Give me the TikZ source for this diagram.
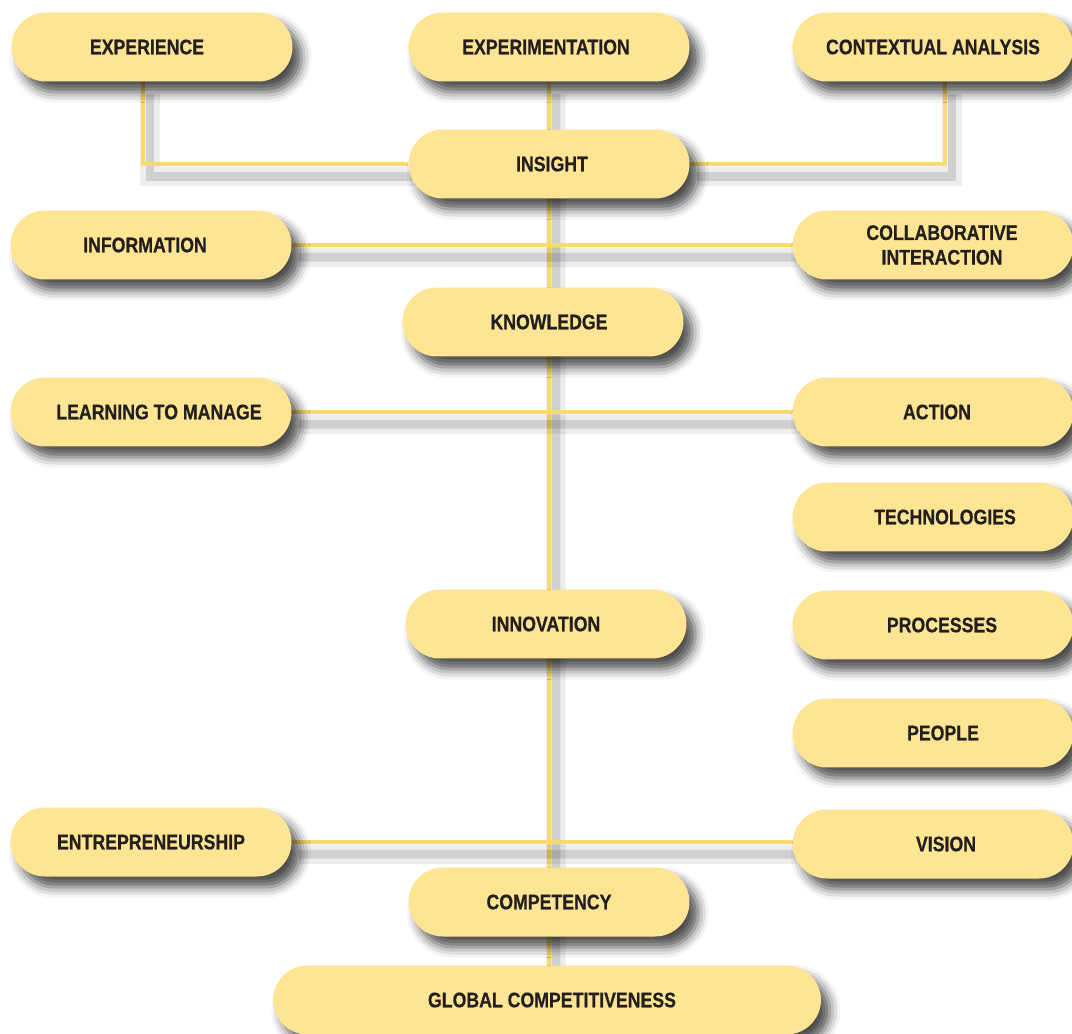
\documentclass[tikz,border=0pt]{standalone}
\usepackage{fontspec}
\setmainfont{Liberation Sans}[FakeStretch=0.84, BoldFeatures={FakeBold=0.6}]
\usetikzlibrary{shapes.misc,shadows.blur,backgrounds}

\definecolor{boxfill}{HTML}{FDE593}
\definecolor{linkline}{HTML}{F8DA6E}
\definecolor{inkgray}{HTML}{231F20}

\tikzset{
  stage/.style={rounded rectangle, fill=boxfill, text=inkgray,
    font=\bfseries\fontsize{12}{14}\selectfont,
    minimum width=5.62cm, minimum height=1.38cm, inner sep=0pt, align=center,
    blur shadow={shadow xshift=5pt, shadow yshift=-6pt, shadow blur radius=6pt, shadow opacity=70}},
  wide/.style={minimum width=10.96cm},
  pushr/.style={execute at begin node=\kern#1},
  pushl/.style={execute at end node=\kern#1},
  link/.style={draw=linkline, line width=2.2pt,
    preaction={draw=black, line width=11pt, opacity=0.07, transform canvas={shift={(4pt,-7pt)}}},
    preaction={draw=black, line width=5pt, opacity=0.12, transform canvas={shift={(4pt,-7pt)}}}},
}

\begin{document}
\begin{tikzpicture}[x=0.02cm, y=-0.02cm]

\useasboundingbox (0,0) rectangle (1072,1034);

% Sources
\node[stage, pushl=0.2cm] (exp)  at (152,47) {EXPERIENCE};
\node[stage, pushl=0.12cm] (expt) at (549,47) {EXPERIMENTATION};
\node[stage] (ctx)  at (933,47) {CONTEXTUAL ANALYSIS};

% Main line
\node[stage, pushr=0.12cm] (ins)   at (549,164) {INSIGHT};
\node[stage, pushr=0.24cm] (know)  at (543,322) {KNOWLEDGE};
\node[stage] (innov) at (546,624) {INNOVATION};
\node[stage] (comp)  at (549,902) {COMPETENCY};
\node[stage, wide, pushr=0.2cm] (glob) at (547,1000) {GLOBAL COMPETITIVENESS};

% Left side
\node[stage, pushl=0.24cm] (info)  at (151,245) {INFORMATION};
\node[stage, pushr=0.32cm] (learn) at (151,412) {LEARNING TO MANAGE};
\node[stage] (entre) at (151,842) {ENTREPRENEURSHIP};

% Right side
\node[stage] (collab) at (933,245) {\hspace*{0.36cm}COLLABORATIVE\\\hspace*{0.36cm}INTERACTION};
\node[stage, pushr=0.16cm] (act)  at (933,412) {ACTION};
\node[stage, pushr=0.48cm] (tech) at (933,517) {TECHNOLOGIES};
\node[stage, pushr=0.36cm] (proc) at (933,625) {PROCESSES};
\node[stage, pushr=0.4cm]  (peop) at (933,733) {PEOPLE};
\node[stage, pushr=0.52cm] (vis)  at (933,844) {VISION};

% Connectors
\begin{scope}[on background layer]
  \draw[link] ([xshift=-0.18cm]exp.south) |- (ins);
  \draw[link] ([xshift=0.24cm]ctx.south) |- (ins);
  \draw[link] (expt) -- (expt |- glob);
  \draw[link] (info) -- (info -| collab);
  \draw[link] (learn) -- (learn -| act);
  \draw[link] (entre) -- (entre -| vis);
\end{scope}

\end{tikzpicture}
\end{document}
